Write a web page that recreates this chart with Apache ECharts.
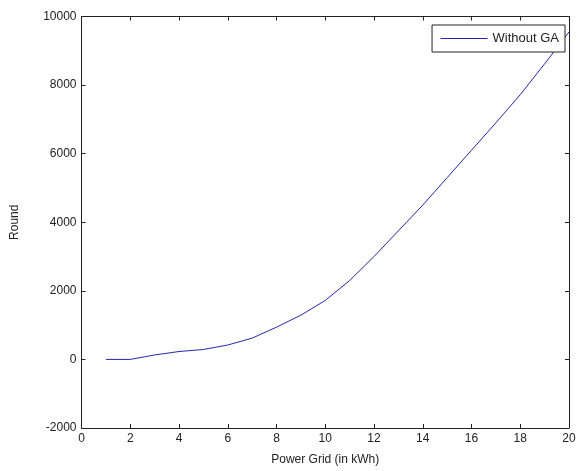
<!DOCTYPE html>
<html>
<head>
<meta charset="utf-8">
<script src="https://cdn.jsdelivr.net/npm/echarts@6/dist/echarts.min.js"></script>
<style>
html,body{margin:0;padding:0;background:#fff;}
#c{width:581px;height:471px;}
</style>
</head>
<body>
<div id="c"></div>
<script>
const xValues = [1,2,3,4,5,6,7,8,9,10,11,12,13,14,15,16,17,18,19,20];
const withoutGA = [0,0,130,230,290,420,620,940,1290,1720,2300,3000,3750,4500,5300,6100,6900,7720,8620,9550];
const seriesName = 'Without GA';
const xName = 'Power Grid (in kWh)';
const yName = 'Round';

const font = 'Liberation Sans, Arial, sans-serif';
const chart = echarts.init(document.getElementById('c'), null, {renderer:'canvas'});
const axisLine = {show:true, onZero:false, lineStyle:{color:'#222', width:1}};
const tick = {show:true, inside:true, length:4, lineStyle:{color:'#222'}};
const plain = v => String(v);
chart.setOption({
  animation:false,
  backgroundColor:'#fff',
  grid:{left:81.5, right:12, top:16.5, bottom:42, containLabel:false},
  legend:{
    right:16, top:25,
    data:[{name:seriesName}],
    backgroundColor:'#fff',
    borderColor:'#222', borderWidth:1,
    padding:[7,6,7,8],
    itemWidth:47, itemHeight:14, itemGap:4,
    itemStyle:{opacity:0},
    lineStyle:{color:'#2626b0', width:1},
    textStyle:{fontFamily:font, fontSize:13, color:'#222'}
  },
  xAxis:[{
    type:'value', min:0, max:20, interval:2,
    name:xName, nameLocation:'middle', nameGap:26,
    nameTextStyle:{fontFamily:font, fontSize:12, color:'#222'},
    axisLine:axisLine, axisTick:tick,
    axisLabel:{fontFamily:font, fontSize:12, color:'#222', margin:5, formatter:plain},
    splitLine:{show:false}
  },{
    type:'value', min:0, max:20, interval:2, position:'top',
    axisLine:axisLine, axisTick:tick, axisLabel:{show:false}, splitLine:{show:false}
  }],
  yAxis:[{
    type:'value', min:-2000, max:10000, interval:2000,
    name:yName, nameLocation:'middle', nameGap:61, nameRotate:90,
    nameTextStyle:{fontFamily:font, fontSize:12, color:'#222'},
    axisLine:axisLine, axisTick:tick,
    axisLabel:{fontFamily:font, fontSize:12, color:'#222', margin:5, formatter:plain},
    splitLine:{show:false}
  },{
    type:'value', min:-2000, max:10000, interval:2000, position:'right',
    axisLine:axisLine, axisTick:tick, axisLabel:{show:false}, splitLine:{show:false}
  }],
  series:[{
    name:seriesName, type:'line',
    data:xValues.map((x,i)=>[x, withoutGA[i]]),
    symbol:'none', smooth:false,
    lineStyle:{color:'#2626b0', width:1},
    itemStyle:{color:'#2626b0'}
  }]
});
</script>
</body>
</html>
